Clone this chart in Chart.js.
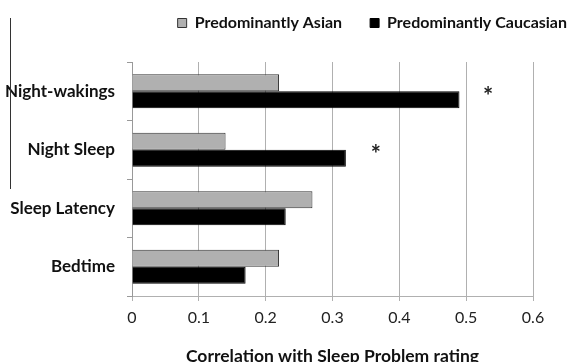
<!DOCTYPE html>
<html>
<head>
<meta charset="utf-8">
<script src="https://cdn.jsdelivr.net/npm/chart.js@4.4.1/dist/chart.umd.min.js"></script>
<style>
  html, body { margin: 0; padding: 0; background: #fff; }
  #wrap { width: 579px; height: 362px; position: relative; }
</style>
</head>
<body>
<div id="wrap"><canvas id="c" width="579" height="362"></canvas></div>
<script>
const categories = ['Night-wakings', 'Night Sleep', 'Sleep Latency', 'Bedtime'];
const seriesNames = ['Predominantly Asian', 'Predominantly Caucasian'];
const asianValues = [0.22, 0.14, 0.27, 0.22];
const caucasianValues = [0.49, 0.32, 0.23, 0.17];
const xTickValues = [0, 0.1, 0.2, 0.3, 0.4, 0.5, 0.6];
const sigCategories = ['Night-wakings', 'Night Sleep'];
const sigPositions = [0.533, 0.365];
const axisTitle = 'Correlation with Sleep Problem rating';

const FONT = 'Lato, "Open Sans", "DejaVu Sans", sans-serif';

const extras = {
  id: 'extras',
  afterLayout(chart) {
    const lg = chart.legend;
    if (lg) {
      const h = lg.bottom - lg.top;
      lg.left = 0; lg.right = 595; lg.width = 595;
      lg.top = -13; lg.bottom = lg.top + h;
    }
  },
  afterDatasetsDraw(chart) {
    const ctx = chart.ctx;
    const x = chart.scales.x, y = chart.scales.y;
    ctx.save();
    ctx.fillStyle = '#222';
    ctx.font = 'bold 24px ' + FONT;
    ctx.textAlign = 'center';
    ctx.textBaseline = 'middle';
    sigCategories.forEach((c, i) => {
      const idx = categories.indexOf(c);
      ctx.fillText('*', x.getPixelForValue(sigPositions[i]), y.getPixelForValue(idx) + 6);
    });
    // decorative left border line from the source image
    ctx.strokeStyle = '#333';
    ctx.lineWidth = 1;
    ctx.beginPath();
    ctx.moveTo(10.5, 18);
    ctx.lineTo(10.5, 189);
    ctx.stroke();
    ctx.restore();
  }
};

new Chart(document.getElementById('c'), {
  type: 'bar',
  data: {
    labels: categories,
    datasets: [
      { label: seriesNames[0], data: asianValues, backgroundColor: '#b0b0b0', borderColor: '#333', borderWidth: 1 },
      { label: seriesNames[1], data: caucasianValues, backgroundColor: '#000', borderColor: '#000', borderWidth: 1 }
    ]
  },
  options: {
    indexAxis: 'y',
    responsive: false,
    animation: false,
    devicePixelRatio: 1,
    categoryPercentage: 0.58,
    barPercentage: 1,
    layout: { padding: { left: 0, right: 46, top: 8, bottom: 0 } },
    plugins: {
      legend: {
        position: 'top',
        align: 'end',
        labels: {
          boxWidth: 9, boxHeight: 9,
          color: '#111',
          padding: 28,
          font: { family: FONT, size: 16, weight: 'bold' }
        }
      },
      tooltip: { enabled: false }
    },
    scales: {
      x: {
        min: 0, max: 0.6,
        afterFit(s) { s.height = 66; },
        afterBuildTicks(s) { s.ticks = xTickValues.map(v => ({ value: v })); },
        grid: { color: '#b0b0b0', lineWidth: 1, tickLength: 5, drawTicks: true },
        border: { color: '#b0b0b0' },
        ticks: {
          color: '#222', padding: 7,
          font: { family: FONT, size: 16 },
          callback: v => String(v)
        },
        title: {
          display: true, text: axisTitle, color: '#111',
          font: { family: FONT, size: 17.5, weight: 'bold' },
          padding: { top: 0, bottom: -5 }
        }
      },
      y: {
        afterFit(s) { s.width = 132; },
        grid: { drawOnChartArea: false, color: '#999', tickLength: 5, offset: true },
        border: { color: '#999' },
        ticks: {
          color: '#111', padding: 12,
          font: { family: FONT, size: 17, weight: 'bold' }
        }
      }
    }
  },
  plugins: [extras]
});
</script>
</body>
</html>
